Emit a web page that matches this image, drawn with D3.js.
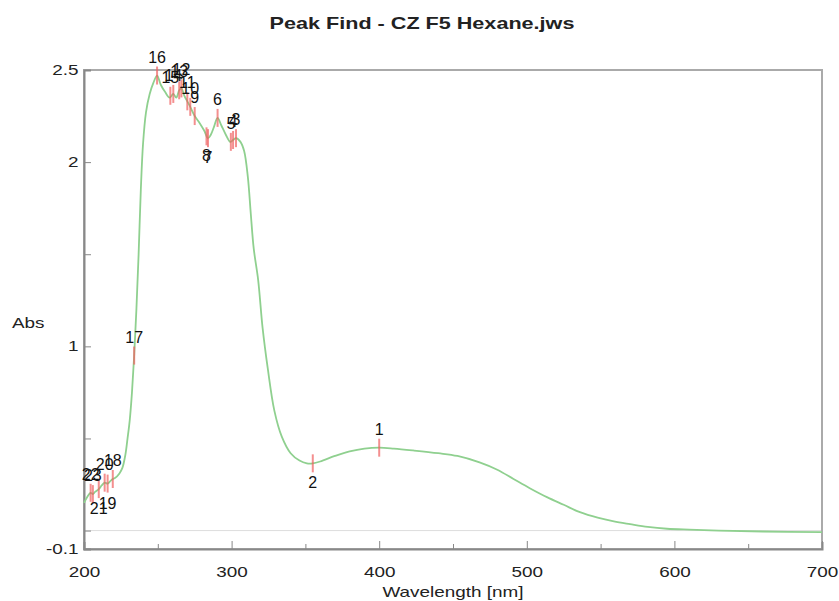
<!DOCTYPE html>
<html>
<head>
<meta charset="utf-8">
<script src="https://cdn.jsdelivr.net/npm/d3@7"></script>
<style>
  body { margin: 0; background: #fff; }
  text { font-family: "Liberation Sans", Arial, sans-serif; }
</style>
</head>
<body>
<div id="chart"></div>
<script>
// spectrum
const wavelengths = [200, 202, 204.5, 206, 207.5, 210, 212, 214, 216, 218, 219.5, 221, 224, 226, 228, 229.5,
  231, 232.5, 234, 235.5, 237, 238.5, 240, 242, 244.5, 247, 249.5, 252, 255, 258, 260.5, 262.5, 264.5, 266,
  268, 270, 272, 275, 278.5, 281.5, 284, 286, 288, 290.5, 293, 296, 299, 301, 303, 306, 308.5, 311, 313,
  315, 318, 321, 324.5, 329, 334, 340, 346, 351, 355, 360, 370, 380, 390, 400, 410, 423, 440, 453, 468,
  480, 491, 502, 514, 525, 536, 548, 559, 570, 582, 595, 610, 630, 660, 700];
const absValues = [0.15, 0.18, 0.205, 0.198, 0.21, 0.225, 0.245, 0.26, 0.255, 0.27, 0.28, 0.285, 0.31, 0.34, 0.41, 0.50,
  0.60, 0.75, 0.95, 1.20, 1.50, 1.85, 2.10, 2.27, 2.37, 2.43, 2.47, 2.42, 2.38, 2.35, 2.37, 2.35, 2.39, 2.40,
  2.36, 2.33, 2.30, 2.25, 2.21, 2.17, 2.13, 2.15, 2.19, 2.24, 2.20, 2.15, 2.11, 2.12, 2.13, 2.11, 2.06, 1.92, 1.72,
  1.53, 1.36, 1.10, 0.88, 0.65, 0.51, 0.42, 0.38, 0.365, 0.365, 0.375, 0.405, 0.43, 0.445, 0.45, 0.445, 0.435, 0.42, 0.405, 0.37,
  0.33, 0.28, 0.23, 0.18, 0.14, 0.10, 0.07, 0.05, 0.035, 0.02, 0.01, 0.005, 0.0, -0.005, -0.008];

// peak find results
const peakLabels = ["1", "2", "3", "4", "5", "6", "7", "8", "9", "10", "11", "12",
  "13", "14", "15", "16", "17", "18", "19", "20", "21", "22", "23"];
const peakWl = [400, 355, 303, 301, 299.5, 290.5, 284, 283, 275, 272, 270, 266,
  264.5, 260.5, 258.5, 249.5, 234, 219.5, 216, 214, 210, 204.5, 206];
const peakAbs = [0.45, 0.365, 2.13, 2.12, 2.11, 2.24, 2.13, 2.14, 2.25, 2.30, 2.33, 2.40,
  2.39, 2.37, 2.36, 2.47, 0.95, 0.28, 0.255, 0.26, 0.225, 0.205, 0.198];
const peakSide = ["up", "down", "up", "up", "up", "up", "down", "down", "up", "up", "up", "up",
  "up", "up", "up", "up", "up", "up", "down", "up", "down", "up", "up"];

const xTickLabels = [200, 300, 400, 500, 600, 700];
const yTickLabels = [2.5, 2, 1, -0.1];

const data = wavelengths.map((w, i) => ({wl: w, abs: absValues[i]}));
const peaks = peakLabels.map((l, i) => ({label: l, wl: peakWl[i], abs: peakAbs[i], side: peakSide[i]}));

// the source picture is stretched sideways, so are its texts
const stretch = 1.35;

// set the dimensions and margins of the graph
const margin = {top: 70, right: 17, bottom: 52, left: 84},
    width = 839 - margin.left - margin.right,
    height = 601 - margin.top - margin.bottom;

const svg = d3.select("#chart")
  .append("svg")
    .attr("width", 839)
    .attr("height", 601)
  .append("g")
    .attr("transform", `translate(${margin.left},${margin.top})`);

const x = d3.scaleLinear().domain([200, 700]).range([0, width]);
const y = d3.scaleLinear().domain([-0.1, 2.5]).range([height, 0]);

// title
svg.append("text")
  .attr("transform", `translate(${422 - margin.left},-41) scale(${stretch},1)`)
  .attr("text-anchor", "middle")
  .style("font-size", "16px")
  .style("font-weight", "bold")
  .style("fill", "#222")
  .text("Peak Find - CZ F5 Hexane.jws");

// zero line
svg.append("line")
  .attr("x1", 0).attr("x2", width)
  .attr("y1", y(0)).attr("y2", y(0))
  .attr("stroke", "#ddd")
  .attr("stroke-width", 1);

// frame
svg.append("rect")
  .attr("x", 0).attr("y", 0)
  .attr("width", width).attr("height", height)
  .attr("fill", "none")
  .attr("stroke", "#aaa")
  .attr("stroke-width", 2);

// X axis, ticks pointing inwards
const xAxis = svg.append("g")
  .attr("transform", `translate(0, ${height})`)
  .call(d3.axisBottom(x)
    .tickValues(d3.range(200, 701, 50))
    .tickSize(-7)
    .tickPadding(18)
    .tickFormat(d => xTickLabels.includes(d) ? d : ""));
xAxis.select(".domain").attr("stroke", "#888").attr("stroke-width", 2);
xAxis.selectAll(".tick line")
  .attr("stroke", "#888")
  .attr("y2", d => d % 100 === 0 ? -8 : -5);
xAxis.selectAll("text")
  .attr("transform", `scale(${stretch},1)`)
  .style("font-size", "14px").style("fill", "#222");

// Y axis
const yAxis = svg.append("g")
  .call(d3.axisLeft(y)
    .tickValues([-0.1, 0, 0.5, 1, 1.5, 2, 2.5])
    .tickSize(-7)
    .tickPadding(4)
    .tickFormat(d => yTickLabels.includes(d) ? d : ""));
yAxis.select(".domain").attr("stroke", "#888").attr("stroke-width", 2);
yAxis.selectAll(".tick line").attr("stroke", "#888");
yAxis.selectAll("text")
  .attr("transform", `scale(${stretch},1)`)
  .style("font-size", "14px").style("fill", "#222");

// axis labels
svg.append("text")
  .attr("transform", `translate(${width / 2},${height + 48}) scale(${stretch},1)`)
  .attr("text-anchor", "middle")
  .style("font-size", "14px")
  .style("fill", "#222")
  .text("Wavelength [nm]");

svg.append("text")
  .attr("transform", `translate(-72,${y(1.1)}) scale(${stretch},1)`)
  .style("font-size", "14px")
  .style("fill", "#222")
  .text("Abs");

// spectrum
svg.append("path")
  .datum(data)
  .attr("fill", "none")
  .attr("stroke", "#8fd08f")
  .attr("stroke-width", 1.8)
  .attr("d", d3.line()
    .x(d => x(d.wl))
    .y(d => y(d.abs))
    .curve(d3.curveCatmullRom.alpha(0.5)));

// peak markers
svg.append("g")
  .selectAll("line")
  .data(peaks)
  .join("line")
    .attr("x1", d => x(d.wl))
    .attr("x2", d => x(d.wl))
    .attr("y1", d => y(d.abs) - 9)
    .attr("y2", d => y(d.abs) + 9)
    .attr("stroke", "#f06060")
    .attr("stroke-opacity", 0.7)
    .attr("stroke-width", 2);

// peak labels
svg.append("g")
  .selectAll("text")
  .data(peaks)
  .join("text")
    .attr("x", d => x(d.wl))
    .attr("y", d => d.side === "up" ? y(d.abs) - 13 : y(d.abs) + 25)
    .attr("text-anchor", "middle")
    .style("font-size", "16px")
    .style("fill", "#111")
    .text(d => d.label);
</script>
</body>
</html>
